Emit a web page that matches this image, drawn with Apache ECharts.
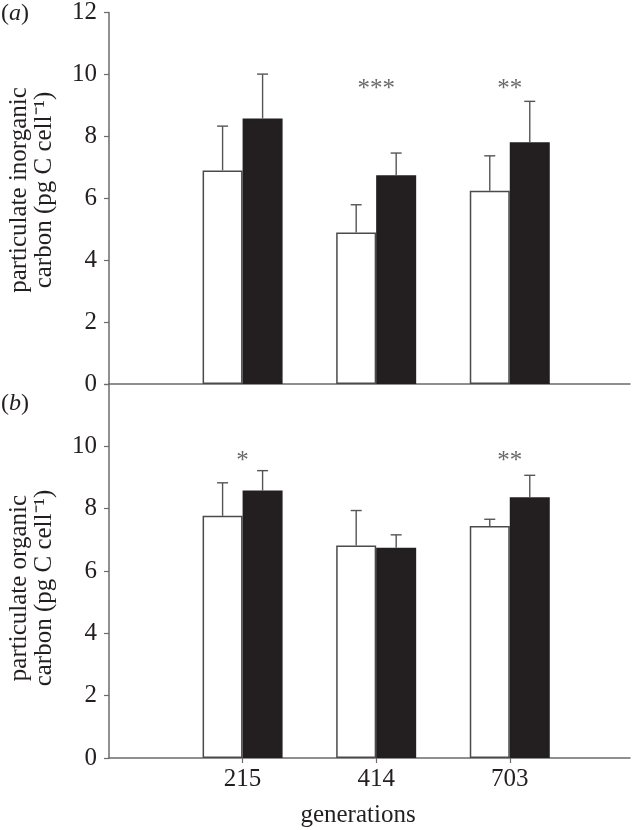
<!DOCTYPE html>
<html>
<head>
<meta charset="utf-8">
<script src="https://cdn.jsdelivr.net/npm/echarts@6/dist/echarts.min.js"></script>
<style>html,body{margin:0;padding:0;background:#fff;}#c{width:644px;height:830px;}</style>
</head>
<body>
<div id="c"></div>
<script>
// ---- data ----
const categories = ['215', '414', '703'];
const yTicks = [0, 2, 4, 6, 8, 10, 12];
// panel (a) particulate inorganic carbon
const picWhite = [6.90, 4.89, 6.24];
const picWhiteErr = [1.43, 0.90, 1.13];
const picBlack = [8.58, 6.74, 7.81];
const picBlackErr = [1.43, 0.72, 1.32];
const picSig = ['', '***', '**'];
// panel (b) particulate organic carbon
const pocWhite = [7.77, 6.82, 7.44];
const pocWhiteErr = [1.06, 1.12, 0.22];
const pocBlack = [8.58, 6.75, 8.37];
const pocBlackErr = [0.64, 0.41, 0.70];
const pocSig = ['*', '', '**'];

const FONT = '"Liberation Serif", "Times New Roman", Times, serif';
const TXT = '#231f20';
const AX = '#6b6b6b';
const FS = 25;
const BAR_W = 40;
const SIG_Y = 9.52;

const chart = echarts.init(document.getElementById('c'), null, {renderer: 'canvas'});

function pts(vals) { return vals.map((v, i) => [i + 1, v]); }
function errPts(vals, errs) { return vals.map((v, i) => [i + 1, v, errs[i]]); }

function xAxisDef(gi, showLabels) {
  return {
    type: 'value', gridIndex: gi, min: 0, max: 3.9, interval: 1,
    splitLine: {show: false},
    axisLine: {show: true, lineStyle: {color: AX, width: 1.5}},
    axisTick: {show: showLabels, customValues: [1, 2, 3], length: 5, lineStyle: {color: AX, width: 1.2}},
    axisLabel: {show: showLabels, customValues: [1, 2, 3], margin: 9,
      formatter: v => categories[Math.round(v) - 1] || '',
      fontFamily: FONT, fontSize: FS, color: TXT}
  };
}
function yAxisDef(gi, hideTop) {
  return {
    type: 'value', gridIndex: gi, min: 0, max: 12, interval: 2,
    splitLine: {show: false},
    axisLine: {show: true, lineStyle: {color: AX, width: 1.5}},
    axisTick: {show: true, length: 5, lineStyle: {color: AX, width: 1.2}},
    axisLabel: {margin: 12, fontFamily: FONT, fontSize: FS, color: TXT,
      formatter: v => (hideTop && v === 12) ? '' : (yTicks.indexOf(v) >= 0 ? String(v) : '')}
  };
}
function barSeries(gi, vals, fill, border) {
  return {
    type: 'bar', xAxisIndex: gi, yAxisIndex: gi, data: pts(vals),
    barWidth: BAR_W, barGap: '0%',
    itemStyle: {color: fill, borderColor: border, borderWidth: 1.5},
    silent: true, animation: false
  };
}
function errSeries(gi, vals, errs, side) {
  return {
    type: 'custom', xAxisIndex: gi, yAxisIndex: gi, data: errPts(vals, errs),
    animation: false, silent: true, z: 5,
    renderItem: function (params, api) {
      const x = api.value(0), v = api.value(1), e = api.value(2);
      const p0 = api.coord([x, v]);
      const p1 = api.coord([x, v + e]);
      const cx = p0[0] + side * BAR_W / 2;
      const cap = 5.5;
      return {
        type: 'group',
        children: [
          {type: 'line', shape: {x1: cx, y1: p0[1], x2: cx, y2: p1[1]}, style: {stroke: '#555', lineWidth: 1.4}},
          {type: 'line', shape: {x1: cx - cap, y1: p1[1], x2: cx + cap, y2: p1[1]}, style: {stroke: '#555', lineWidth: 1.4}}
        ]
      };
    }
  };
}
function sigSeries(gi, sig) {
  return {
    type: 'custom', xAxisIndex: gi, yAxisIndex: gi,
    data: sig.map((s, i) => [i + 1, SIG_Y, s]),
    animation: false, silent: true, z: 6,
    renderItem: function (params, api) {
      const s = sig[params.dataIndex];
      if (!s) return null;
      const p = api.coord([api.value(0), api.value(1)]);
      return {type: 'text', x: p[0], y: p[1],
        style: {text: s, fontFamily: FONT, fontSize: 25, fill: '#6a6a6a', align: 'center', verticalAlign: 'middle'}};
    }
  };
}

const option = {
  backgroundColor: '#fff',
  animation: false,
  grid: [
    {left: 109, top: 12, width: 521, height: 372},
    {left: 109, top: 384, width: 521, height: 374}
  ],
  xAxis: [xAxisDef(0, false), xAxisDef(1, true)],
  yAxis: [yAxisDef(0, false), yAxisDef(1, true)],
  series: [
    barSeries(0, picWhite, '#ffffff', '#4a4a4a'),
    barSeries(0, picBlack, '#231f20', '#231f20'),
    errSeries(0, picWhite, picWhiteErr, -1),
    errSeries(0, picBlack, picBlackErr, 1),
    sigSeries(0, picSig),
    barSeries(1, pocWhite, '#ffffff', '#4a4a4a'),
    barSeries(1, pocBlack, '#231f20', '#231f20'),
    errSeries(1, pocWhite, pocWhiteErr, -1),
    errSeries(1, pocBlack, pocBlackErr, 1),
    sigSeries(1, pocSig)
  ],
  graphic: [
    {type: 'text', left: 1, top: 2, style: {text: '({i|a})', fontFamily: FONT, fontSize: 24, fill: TXT,
      rich: {i: {fontFamily: FONT, fontStyle: 'italic', fontSize: 24, fill: TXT}}}},
    {type: 'text', left: 1, top: 392, style: {text: '({i|b})', fontFamily: FONT, fontSize: 24, fill: TXT,
      rich: {i: {fontFamily: FONT, fontStyle: 'italic', fontSize: 24, fill: TXT}}}},
    {type: 'text', x: 19, y: 190, rotation: Math.PI / 2,
      style: {text: 'particulate inorganic', fontFamily: FONT, fontSize: FS, fill: TXT, align: 'center', verticalAlign: 'middle'}},
    {type: 'text', x: 44, y: 190, rotation: Math.PI / 2,
      style: {text: 'carbon (pg C cell\u207B\u00B9)', fontFamily: FONT, fontSize: FS, fill: TXT, align: 'center', verticalAlign: 'middle'}},
    {type: 'text', x: 19, y: 588, rotation: Math.PI / 2,
      style: {text: 'particulate organic', fontFamily: FONT, fontSize: FS, fill: TXT, align: 'center', verticalAlign: 'middle'}},
    {type: 'text', x: 44, y: 588, rotation: Math.PI / 2,
      style: {text: 'carbon (pg C cell\u207B\u00B9)', fontFamily: FONT, fontSize: FS, fill: TXT, align: 'center', verticalAlign: 'middle'}},
    {type: 'text', x: 358, y: 815,
      style: {text: 'generations', fontFamily: FONT, fontSize: FS, fill: TXT, align: 'center', verticalAlign: 'middle'}}
  ]
};
chart.setOption(option);
</script>
</body>
</html>
